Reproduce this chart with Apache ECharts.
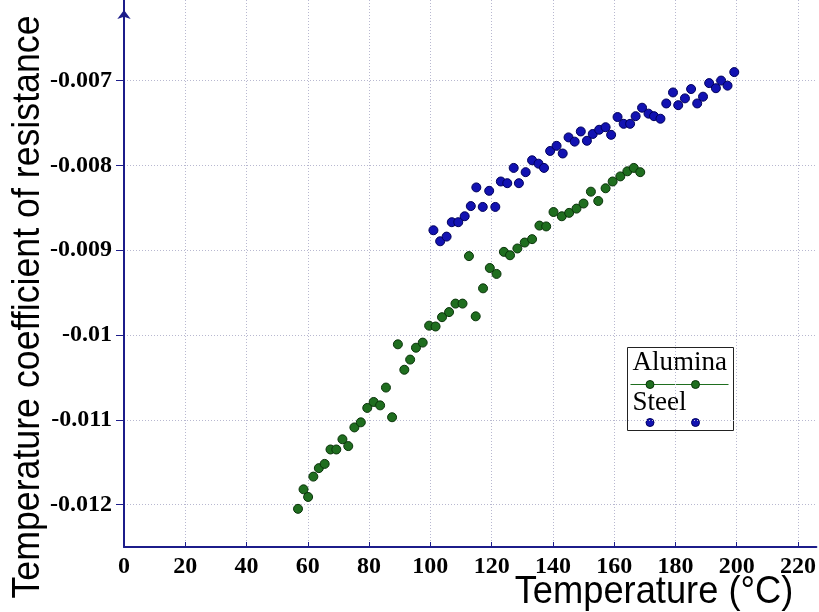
<!DOCTYPE html>
<html>
<head>
<meta charset="utf-8">
<script src="https://cdn.jsdelivr.net/npm/echarts@6/dist/echarts.min.js"></script>
<style>html,body{margin:0;padding:0;background:#fff}#c{width:819px;height:612px}</style>
</head>
<body>
<div id="c"></div>
<script>
const xTicks = [0, 20, 40, 60, 80, 100, 120, 140, 160, 180, 200, 220];
const yTicks = [-0.012, -0.011, -0.01, -0.009, -0.008, -0.007];

const aluminaTemp = [56.8, 58.6, 60.1, 61.8, 63.6, 65.5, 67.4, 69.3, 71.3, 73.2, 75.2, 77.3, 79.4, 81.5, 83.6, 85.5, 87.5, 89.4, 91.5, 93.4, 95.3, 97.5, 99.6, 101.7, 103.8, 106.1, 108.2, 110.5, 112.6, 114.8, 117.2, 119.4, 121.6, 124.0, 126.0, 128.4, 130.8, 133.2, 135.6, 137.8, 140.2, 142.9, 145.3, 147.7, 150.0, 152.4, 154.8, 157.2, 159.5, 162.0, 164.3, 166.4, 168.5];
const aluminaTcr = [-0.01205, -0.01182, -0.01191, -0.01167, -0.01157, -0.01152, -0.01135, -0.01135, -0.01123, -0.01131, -0.01109, -0.01103, -0.01086, -0.01079, -0.01083, -0.01062, -0.01097, -0.01011, -0.01041, -0.01029, -0.01015, -0.01009, -0.00989, -0.0099, -0.00979, -0.00973, -0.00963, -0.00963, -0.00907, -0.00978, -0.00945, -0.00921, -0.00928, -0.00902, -0.00906, -0.00898, -0.00891, -0.00887, -0.00871, -0.00872, -0.00855, -0.0086, -0.00856, -0.00851, -0.00845, -0.00831, -0.00842, -0.00827, -0.00819, -0.00813, -0.00807, -0.00803, -0.00808];

const steelTemp = [101.0, 103.2, 105.3, 107.0, 109.1, 111.2, 113.2, 115.0, 117.1, 119.2, 121.2, 123.0, 125.1, 127.2, 128.9, 131.1, 133.2, 135.3, 137.1, 139.1, 141.2, 143.2, 145.1, 147.1, 149.1, 151.1, 153.0, 155.1, 157.2, 159.0, 161.1, 163.1, 165.2, 167.0, 169.1, 171.2, 173.0, 175.1, 177.0, 179.2, 180.9, 183.1, 185.1, 187.1, 189.0, 191.0, 193.2, 194.9, 197.0, 199.2];
const steelTcr = [-0.008765, -0.008895, -0.00884, -0.00867, -0.00867, -0.0086, -0.00848, -0.00826, -0.00849, -0.0083, -0.00849, -0.00819, -0.00821, -0.00803, -0.00821, -0.00808, -0.00794, -0.00798, -0.00803, -0.00783, -0.00777, -0.00786, -0.00767, -0.00772, -0.0076, -0.00771, -0.00763, -0.00758, -0.00755, -0.00764, -0.00743, -0.00751, -0.00751, -0.00742, -0.00732, -0.00739, -0.00742, -0.00745, -0.00727, -0.00714, -0.00729, -0.00721, -0.0071, -0.00727, -0.00719, -0.00703, -0.00709, -0.007, -0.00706, -0.0069];

const seriesNames = ['Alumina', 'Steel'];
const xName = 'Temperature (°C)';
const yName = 'Temperature coefficient of resistance';

const zip = (a, b) => a.map((v, i) => [v, b[i]]);

const chart = echarts.init(document.getElementById('c'), null, {renderer: 'canvas'});
const axisColor = '#1c1c8a';
const gridColor = '#b8b8d0';
const labelFont = {fontFamily: 'Liberation Serif', fontWeight: 'bold', fontSize: 24, color: '#000'};

chart.setOption({
  animation: false,
  backgroundColor: '#fff',
  grid: {left: 124, right: 0, top: 0, bottom: 65, containLabel: false},
  xAxis: {
    type: 'value', min: 0, max: 226,
    axisLine: {lineStyle: {color: axisColor, width: 2}},
    axisTick: {show: true, inside: true, length: 5, customValues: xTicks, lineStyle: {color: axisColor}},
    axisLabel: Object.assign({margin: 8, customValues: xTicks, formatter: v => String(v)}, labelFont),
    splitLine: {show: true, lineStyle: {color: gridColor, type: [1, 2], width: 1}}
  },
  yAxis: {
    type: 'value', min: -0.0125, max: -0.00605,
    axisLine: {show: true, symbol: ['none', 'arrow'], symbolSize: [10, 9], symbolOffset: [0, -10], lineStyle: {color: axisColor, width: 2}},
    axisTick: {show: true, length: 8, customValues: yTicks, lineStyle: {color: axisColor}},
    axisLabel: Object.assign({margin: 12, customValues: yTicks, formatter: v => String(v)}, labelFont),
    splitLine: {show: true, lineStyle: {color: gridColor, type: [1, 2], width: 1}}
  },
  series: [
    {
      name: seriesNames[0], type: 'scatter', symbol: 'circle', symbolSize: 9,
      itemStyle: {color: '#1f6e1f', borderColor: '#0a340a', borderWidth: 1, opacity: 1},
      data: zip(aluminaTemp, aluminaTcr)
    },
    {
      name: seriesNames[1], type: 'scatter', symbol: 'circle', symbolSize: 9,
      itemStyle: {color: '#1212b2', borderColor: '#00005c', borderWidth: 1, opacity: 1},
      data: zip(steelTemp, steelTcr)
    }
  ],
  graphic: [
    {type: 'text', x: 29, y: 307, rotation: Math.PI / 2, scaleX: 0.94, style: {text: yName, fontFamily: 'Liberation Sans', fontSize: 38, fill: '#000', align: 'center', verticalAlign: 'middle'}},
    {type: 'text', x: 654, y: 592, scaleX: 0.93, style: {text: xName, fontFamily: 'Liberation Sans', fontSize: 39, fill: '#000', align: 'center', verticalAlign: 'middle'}},
    {type: 'group', left: 627, top: 347, children: [
      {type: 'rect', shape: {x: 0, y: 0, width: 106, height: 83}, style: {fill: '#fff', stroke: '#222', lineWidth: 1}},
      {type: 'text', x: 5, y: 2, style: {text: seriesNames[0], fontFamily: 'Liberation Serif', fontSize: 27, fill: '#000'}},
      {type: 'line', shape: {x1: 3, y1: 37, x2: 101, y2: 37}, style: {stroke: '#1f6e1f', lineWidth: 1}},
      {type: 'circle', shape: {cx: 22.5, cy: 37, r: 4}, style: {fill: '#1f6e1f', stroke: '#0a340a', lineWidth: 1}},
      {type: 'circle', shape: {cx: 68, cy: 37, r: 4}, style: {fill: '#1f6e1f', stroke: '#0a340a', lineWidth: 1}},
      {type: 'text', x: 5, y: 42, style: {text: seriesNames[1], fontFamily: 'Liberation Serif', fontSize: 27, fill: '#000'}},
      {type: 'circle', shape: {cx: 22.5, cy: 75, r: 4}, style: {fill: '#1212b2', stroke: '#00005c', lineWidth: 1}},
      {type: 'circle', shape: {cx: 68, cy: 75, r: 4}, style: {fill: '#1212b2', stroke: '#00005c', lineWidth: 1}}
    ]}
  ]
});
</script>
</body>
</html>
